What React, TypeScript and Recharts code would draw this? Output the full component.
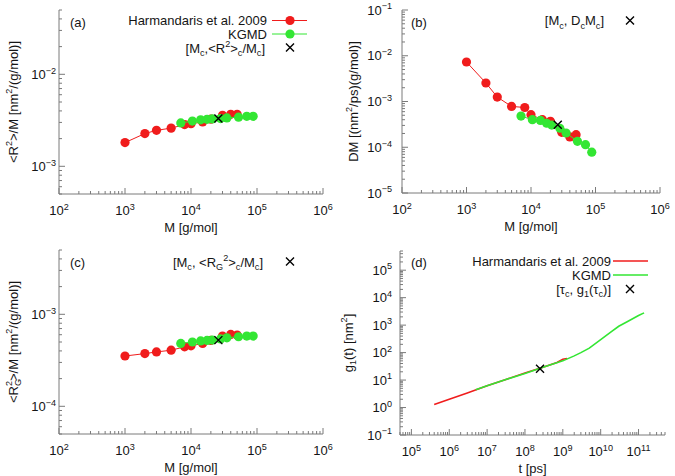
import React from 'react';
import { ScatterChart, Scatter, XAxis, YAxis, Label } from 'recharts';

const RED = '#f01c1c';
const GREEN = '#33e633';
const AXIS = '#7a7a7a';
const INK = '#151515';
const FONT = '"Liberation Sans", Arial, Helvetica, sans-serif';

// molar mass of the chains [g/mol]
const massHarm = [1000, 2000, 3000, 5000, 8000, 10000, 15000, 20000, 30000, 40000, 50000];
const massKgmd = [7000, 10500, 14000, 17500, 21000, 28000, 35000, 52500, 70000, 87500];
const massCross = [26000];

// (a) <R^2>/M
const r2Harm = [1.81e-3, 2.27e-3, 2.46e-3, 2.6e-3, 2.84e-3, 2.9e-3, 3.03e-3, 3.25e-3, 3.58e-3, 3.67e-3, 3.67e-3];
const r2Kgmd = [2.96e-3, 3.1e-3, 3.2e-3, 3.24e-3, 3.27e-3, 3.3e-3, 3.36e-3, 3.42e-3, 3.49e-3, 3.49e-3];
const r2Cross = [3.3e-3];

// (b) DM
const dmHarm = [7.3e-3, 2.54e-3, 1.25e-3, 7.8e-4, 7.4e-4, 5.15e-4, 4.0e-4, 3.68e-4, 2.12e-4, 1.68e-4, 1.88e-4];
const dmKgmd = [4.8e-4, 4.0e-4, 3.85e-4, 3.35e-4, 3.05e-4, 2.6e-4, 2.05e-4, 1.35e-4, 1.14e-4, 7.8e-5];
const dmCross = [3.1e-4];

// (c) <R_G^2>/M
const rgHarm = [3.52e-4, 3.74e-4, 3.9e-4, 4.07e-4, 4.43e-4, 4.54e-4, 4.82e-4, 5.2e-4, 5.8e-4, 6.04e-4, 5.94e-4];
const rgKgmd = [4.82e-4, 5.0e-4, 5.13e-4, 5.2e-4, 5.25e-4, 5.4e-4, 5.55e-4, 5.7e-4, 5.8e-4, 5.8e-4];
const rgCross = [5.24e-4];

// (d) g1(t)
const timeHarm = [4e5, 1e6, 3e6, 1e7, 3e7, 1e8, 3e8, 7e8, 1e9, 1.3e9];
const g1Harm = [1.3, 2.0, 3.4, 6.2, 10.3, 18.2, 29.2, 44, 57, 61];
const timeKgmd = [5e6, 1e7, 3e7, 1e8, 3e8, 1e9, 2e9, 3e9, 5e9, 1e10, 2e10, 3e10, 5e10, 1e11, 1.4e11];
const g1Kgmd = [4.4, 6.2, 10.3, 17.5, 29, 50, 76, 100, 145, 295, 600, 910, 1320, 2240, 2800];
const timeCross = [2.5e8];
const g1Cross = [26];

// labelled decades
const massTicks = [1e2, 1e3, 1e4, 1e5, 1e6];
const timeTicks = [1e5, 1e6, 1e7, 1e8, 1e9, 1e10, 1e11];
const r2Ticks = [1e-3, 1e-2];
const dmTicks = [1e-5, 1e-4, 1e-3, 1e-2, 1e-1];
const rgTicks = [1e-4, 1e-3];
const g1Ticks = [1e-1, 1e0, 1e1, 1e2, 1e3, 1e4, 1e5];

const pts = (xs: number[], ys: number[]) => xs.map((x, i) => ({ x, y: ys[i] }));

// 2..9 between the decades, inside the domain
const minors = (dom: [number, number]) => {
  const out: number[] = [];
  for (let d = Math.floor(Math.log10(dom[0])); d <= Math.ceil(Math.log10(dom[1])); d++) {
    for (let k = 2; k <= 9; k++) {
      const v = k * Math.pow(10, d);
      if (v >= dom[0] * 0.999 && v <= dom[1] * 1.001) out.push(v);
    }
  }
  return out;
};

type Seg = [string, string?, number?];

// text with super/subscripts as tspans
const rich = (segs: Seg[], size = 13) => {
  let cur = 0;
  return segs.map(([t, k, dx], i) => {
    const to = k === '^' ? -size * 0.4 : k === '_' ? size * 0.3 : 0;
    const dy = to - cur;
    cur = to;
    return (
      <tspan key={i} dy={dy} dx={dx} fontSize={k ? size * 0.7 : size}>
        {t}
      </tspan>
    );
  });
};

const txt = { fontFamily: FONT, fontSize: 13, fill: INK };

const LogTick = (props: any) => {
  const { x, y, payload, side, majors, gap } = props;
  const v = payload.value;
  const major = majors.some((m: number) => Math.abs(m / v - 1) < 1e-6);
  const len = major ? 6 : 3;
  const e = Math.round(Math.log10(v));
  const lab: Seg[] = [['10'], [e < 0 ? `−${-e}` : `${e}`, '^']];
  if (side === 'bottom')
    return (
      <g>
        <line x1={x} y1={y} x2={x} y2={y - len} stroke={AXIS} />
        {major && (
          <text x={x} y={y + 21} textAnchor="middle" style={txt}>
            {rich(lab)}
          </text>
        )}
      </g>
    );
  if (side === 'top') return <line x1={x} y1={y} x2={x} y2={y + len} stroke={AXIS} />;
  if (side === 'left')
    return (
      <g>
        <line x1={x} y1={y} x2={x + len} y2={y} stroke={AXIS} />
        {major && (
          <text x={x - gap} y={y + 4.5} textAnchor="end" style={txt}>
            {rich(lab)}
          </text>
        )}
      </g>
    );
  return <line x1={x} y1={y} x2={x - len} y2={y} stroke={AXIS} />;
};

const dot = (color: string) => (p: any) => <circle cx={p.cx} cy={p.cy} r={4.6} fill={color} />;
const cross = (p: any) => (
  <path
    d={`M${p.cx - 4},${p.cy - 4}L${p.cx + 4},${p.cy + 4}M${p.cx - 4},${p.cy + 4}L${p.cx + 4},${p.cy - 4}`}
    stroke="#000"
    strokeWidth={1.4}
  />
);
const none = () => <g />;

type PanelProps = {
  box: { left: number; top: number; width: number; height: number };
  plot: { left: number; top: number; right: number; bottom: number };
  xDom: [number, number];
  yDom: [number, number];
  xMaj: number[];
  yMaj: number[];
  xTitle: Seg[];
  yTitle: Seg[];
  yTitleX: number;
  yGap: number;
  children: React.ReactNode;
};

const Panel = ({ box, plot, xDom, yDom, xMaj, yMaj, xTitle, yTitle, yTitleX, yGap, children }: PanelProps) => {
  const margin = { top: plot.top - box.top, right: box.left + box.width - plot.right, left: 0, bottom: 0 };
  const yWidth = plot.left - box.left;
  const xHeight = box.top + box.height - plot.bottom;
  const xTicks = [...xMaj, ...minors(xDom)];
  const yTicks = [...yMaj, ...minors(yDom)];
  const axisCommon = { type: 'number' as const, scale: 'log' as const, allowDataOverflow: true, interval: 0 as const, tickSize: 0, tickMargin: 0, axisLine: { stroke: AXIS } };
  return (
    <div style={{ position: 'absolute', left: box.left, top: box.top }}>
      <ScatterChart width={box.width} height={box.height} margin={margin}>
        <XAxis {...axisCommon} dataKey="x" domain={xDom} ticks={xTicks} height={xHeight}
          tick={(p: any) => <LogTick {...p} side="bottom" majors={xMaj} />}>
          <Label
            content={(p: any) => (
              <text x={p.viewBox.x + p.viewBox.width / 2} y={p.viewBox.y + 38} textAnchor="middle" style={txt}>
                {rich(xTitle)}
              </text>
            )}
          />
        </XAxis>
        <XAxis {...axisCommon} xAxisId="top" orientation="top" domain={xDom} ticks={xTicks} height={0}
          tick={(p: any) => <LogTick {...p} side="top" majors={xMaj} />} />
        <YAxis {...axisCommon} dataKey="y" domain={yDom} ticks={yTicks} width={yWidth}
          tick={(p: any) => <LogTick {...p} side="left" majors={yMaj} gap={yGap} />}>
          <Label
            content={(p: any) => {
              const cx = yTitleX + 3.5;
              const cy = p.viewBox.y + p.viewBox.height / 2;
              return (
                <text x={cx} y={cy} transform={`rotate(-90, ${cx}, ${cy})`} textAnchor="middle" style={txt}>
                  {rich(yTitle)}
                </text>
              );
            }}
          />
        </YAxis>
        <YAxis {...axisCommon} yAxisId="right" orientation="right" domain={yDom} ticks={yTicks} width={0}
          tick={(p: any) => <LogTick {...p} side="right" majors={yMaj} />} />
        {children}
      </ScatterChart>
    </div>
  );
};

const markSeries = (harm: { x: number; y: number }[], kgmd: { x: number; y: number }[], cr: { x: number; y: number }[]) => [
  <Scatter key="h" data={harm} fill={RED} line={{ stroke: RED, strokeWidth: 1 }} shape={dot(RED)} isAnimationActive={false} />,
  <Scatter key="k" data={kgmd} fill={GREEN} line={{ stroke: GREEN, strokeWidth: 1 }} shape={dot(GREEN)} isAnimationActive={false} />,
  <Scatter key="c" data={cr} fill="#000" shape={cross} isAnimationActive={false} />,
];

const LegendText = ({ x, y, segs }: { x: number; y: number; segs: Seg[] }) => (
  <text x={x} y={y} textAnchor="end" style={txt}>
    {rich(segs)}
  </text>
);

const X = ({ x, y }: { x: number; y: number }) => (
  <path d={`M${x - 4},${y - 4}L${x + 4},${y + 4}M${x - 4},${y + 4}L${x + 4},${y - 4}`} stroke="#000" strokeWidth={1.4} />
);

const Overlay = () => (
  <svg width={675} height={476} style={{ position: 'absolute', left: 0, top: 0, pointerEvents: 'none' }}>
    {/* (a) */}
    <text x={70} y={27} style={txt}>(a)</text>
    <LegendText x={267} y={25} segs={[['Harmandaris et al. 2009']]} />
    <line x1={272} y1={20.5} x2={307} y2={20.5} stroke={RED} />
    <circle cx={290} cy={20.5} r={4.6} fill={RED} />
    <LegendText x={267} y={38.5} segs={[['KGMD']]} />
    <line x1={272} y1={34} x2={307} y2={34} stroke={GREEN} />
    <circle cx={290} cy={34} r={4.6} fill={GREEN} />
    <LegendText x={265} y={52.5} segs={[['[M'], ['c', '_'], [',<R'], ['2', '^'], ['>'], ['c', '_'], ['/M'], ['c', '_'], [']']]} />
    <X x={290} y={47.5} />

    {/* (b) */}
    <text x={411} y={27} style={txt}>(b)</text>
    <LegendText x={604} y={25} segs={[['[M'], ['c', '_'], [', D'], ['c', '_'], ['M'], ['c', '_'], [']']]} />
    <X x={630} y={20.5} />

    {/* (c) */}
    <text x={70} y={267} style={txt}>(c)</text>
    <LegendText x={263} y={266.5} segs={[['[M'], ['c', '_'], [', <R'], ['G', '_'], ['2', '^'], ['>'], ['c', '_'], ['/M'], ['c', '_'], [']']]} />
    <X x={290} y={261.5} />

    {/* (d) */}
    <text x={411} y={267} style={txt}>(d)</text>
    <LegendText x={611} y={265.5} segs={[['Harmandaris et al. 2009']]} />
    <line x1={613} y1={261} x2={648} y2={261} stroke={RED} strokeWidth={1.6} />
    <LegendText x={611} y={279.5} segs={[['KGMD']]} />
    <line x1={613} y1={275} x2={648} y2={275} stroke={GREEN} strokeWidth={1.6} />
    <LegendText x={611} y={293.5} segs={[['[τ'], ['c', '_'], [', g'], ['1', '_'], ['(τ'], ['c', '_'], [')]']]} />
    <X x={630} y={289} />
  </svg>
);

const massTitle: Seg[] = [['M [g/mol]']];

export default function App() {
  return (
    <div style={{ position: 'absolute', left: 0, top: 0, width: 675, height: 476, background: '#fff' }}>
      <Panel
        box={{ left: 0, top: 0, width: 337, height: 238 }}
        plot={{ left: 59, top: 10, right: 323, bottom: 194 }}
        xDom={[1e2, 1e6]} yDom={[5e-4, 5e-2]} xMaj={massTicks} yMaj={r2Ticks}
        xTitle={massTitle}
        yTitle={[['<R'], ['2', '^'], ['>/M [nm'], ['2', '^'], ['/(g/mol)]']]}
        yTitleX={14} yGap={3}
      >
        {markSeries(pts(massHarm, r2Harm), pts(massKgmd, r2Kgmd), pts(massCross, r2Cross))}
      </Panel>
      <Panel
        box={{ left: 337, top: 0, width: 338, height: 238 }}
        plot={{ left: 402, top: 10, right: 660, bottom: 193 }}
        xDom={[1e2, 1e6]} yDom={[1e-5, 1e-1]} xMaj={massTicks} yMaj={dmTicks}
        xTitle={massTitle}
        yTitle={[['DM [(nm'], ['2', '^'], ['/ps)(g/mol)]']]}
        yTitleX={17} yGap={10}
      >
        {markSeries(pts(massHarm, dmHarm), pts(massKgmd, dmKgmd), pts(massCross, dmCross))}
      </Panel>
      <Panel
        box={{ left: 0, top: 238, width: 337, height: 238 }}
        plot={{ left: 59, top: 250, right: 323, bottom: 434 }}
        xDom={[1e2, 1e6]} yDom={[5e-5, 5e-3]} xMaj={massTicks} yMaj={rgTicks}
        xTitle={massTitle}
        yTitle={[['<R'], ['G', '_'], ['2', '^', -7], ['>/M [nm'], ['2', '^'], ['/(g/mol)]']]}
        yTitleX={14} yGap={3}
      >
        {markSeries(pts(massHarm, rgHarm), pts(massKgmd, rgKgmd), pts(massCross, rgCross))}
      </Panel>
      <Panel
        box={{ left: 337, top: 238, width: 338, height: 238 }}
        plot={{ left: 400, top: 251, right: 665, bottom: 435 }}
        xDom={[5e4, 5e11]} yDom={[1e-1, 5e5]} xMaj={timeTicks} yMaj={g1Ticks}
        xTitle={[['t [ps]']]}
        yTitle={[['g'], ['1', '_'], ['(t) [nm'], ['2', '^'], [']']]}
        yTitleX={12} yGap={8}
      >
        <Scatter data={pts(timeHarm, g1Harm)} fill={RED} line={{ stroke: RED, strokeWidth: 1.6 }} shape={none} isAnimationActive={false} />
        <Scatter data={pts(timeKgmd, g1Kgmd)} fill={GREEN} line={{ stroke: GREEN, strokeWidth: 1.6 }} shape={none} isAnimationActive={false} />
        <Scatter data={pts(timeCross, g1Cross)} fill="#000" shape={cross} isAnimationActive={false} />
      </Panel>
      <Overlay />
    </div>
  );
}
